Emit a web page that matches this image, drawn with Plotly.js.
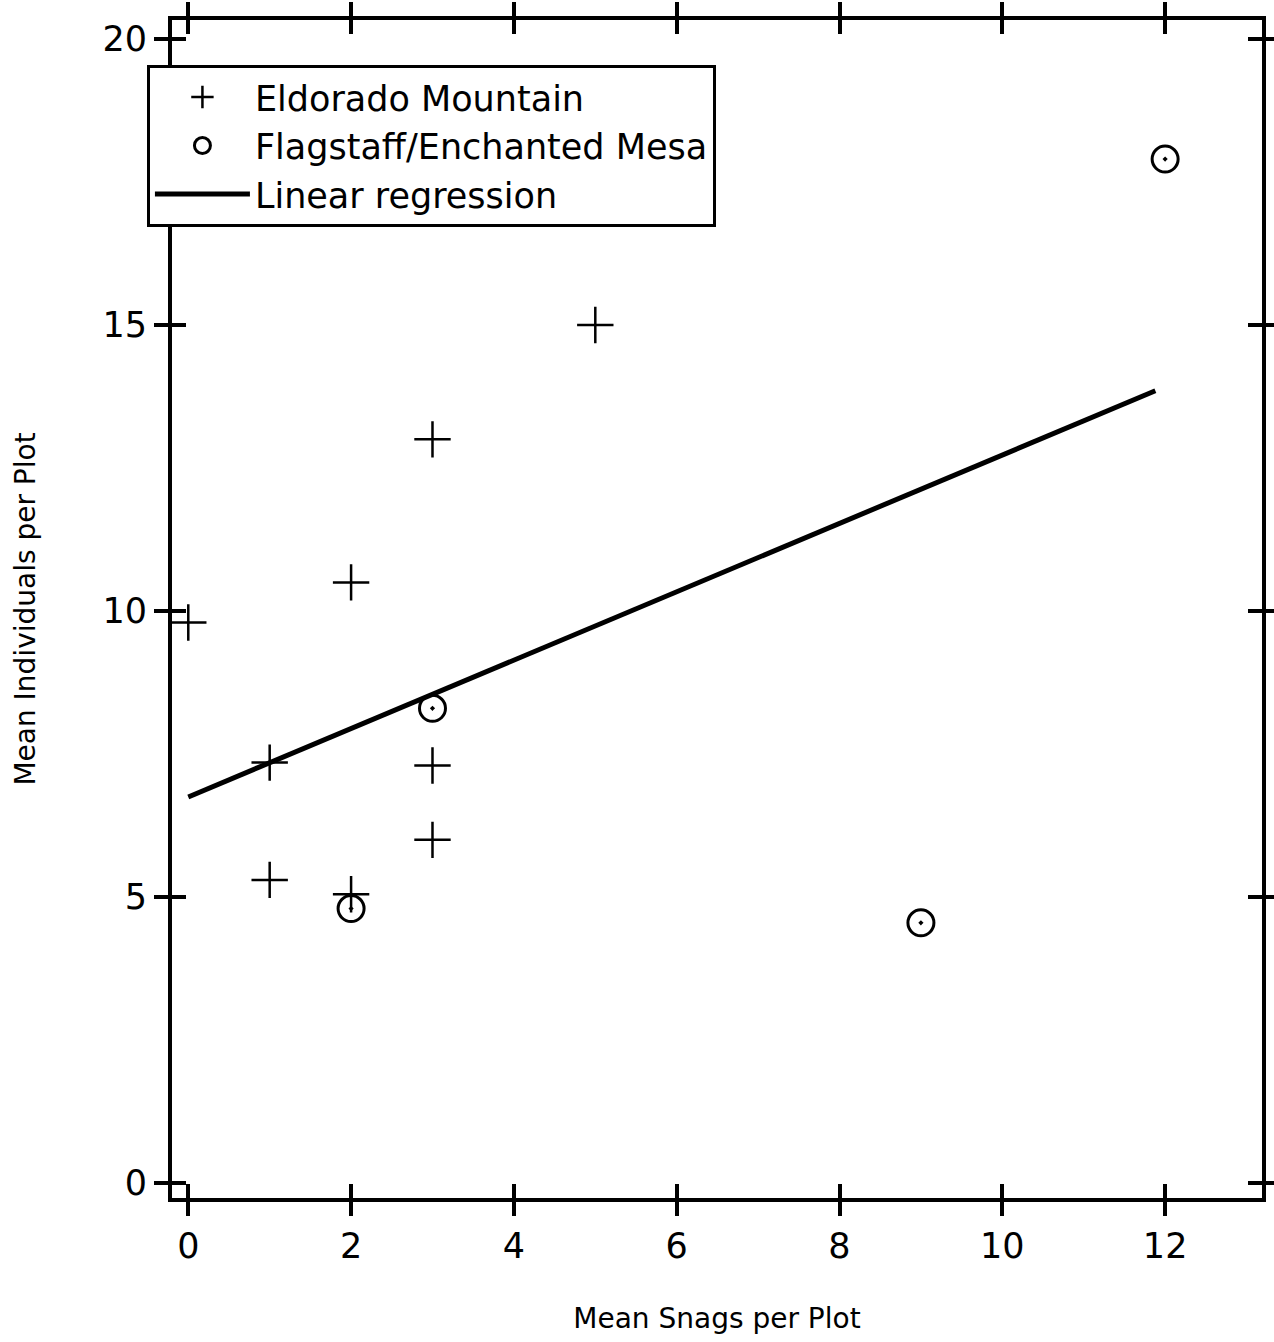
<!DOCTYPE html>
<html>
<head>
<meta charset="utf-8">
<script src="https://cdn.plot.ly/plotly-3.0.1.min.js"></script>
<style>
html,body{margin:0;padding:0;background:#fff;}
#chart{width:1274px;height:1342px;}
</style>
</head>
<body>
<div id="chart"></div>
<script>
// Eldorado Mountain
const eldoradoX = [0, 1, 1, 2, 2, 3, 3, 3, 5];
const eldoradoY = [9.8, 7.35, 5.3, 10.5, 5.05, 13.0, 7.3, 6.0, 15.0];
// Flagstaff/Enchanted Mesa
const flagstaffX = [2, 3, 9, 12];
const flagstaffY = [4.8, 8.3, 4.55, 17.9];
// Linear regression (endpoints)
const regX = [0, 11.88];
const regY = [6.75, 13.85];

const xTicks = [0, 2, 4, 6, 8, 10, 12];
const yTicks = [0, 5, 10, 15, 20];

const FONT = "DejaVu Sans, Liberation Sans, Arial, sans-serif";
const xRange = [-0.2, 13.19];
const yRange = [-0.26, 20.33];

const traces = [
  {
    x: eldoradoX, y: eldoradoY, type: 'scatter', mode: 'markers',
    name: 'Eldorado Mountain',
    marker: {symbol: 'cross-thin-open', size: 26, color: '#000', line: {color: '#000', width: 2.5}}
  },
  {
    x: flagstaffX, y: flagstaffY, type: 'scatter', mode: 'markers',
    name: 'Flagstaff/Enchanted Mesa', showlegend: false,
    marker: {symbol: 'circle-open-dot', size: 26, color: '#000', line: {color: '#000', width: 3}}
  },
  {
    x: [null], y: [null], type: 'scatter', mode: 'markers',
    name: 'Flagstaff/Enchanted Mesa',
    marker: {symbol: 'circle-open', size: 20, color: '#000', line: {color: '#000', width: 3}}
  },
  {
    x: regX, y: regY, type: 'scatter', mode: 'lines',
    name: 'Linear regression',
    line: {color: '#000', width: 5}
  },
  {
    // empty helper trace so the overlaid inner-tick axes get drawn
    x: [null], y: [null], type: 'scatter', mode: 'markers',
    xaxis: 'x2', yaxis: 'y2', showlegend: false, hoverinfo: 'skip'
  }
];

const axisCommon = {
  showgrid: false, zeroline: false, showline: true,
  linecolor: '#000', linewidth: 4,
  tickcolor: '#000', tickwidth: 4, ticklen: 14,
  tickfont: {family: FONT, size: 35, color: '#000'}
};

const layout = {
  width: 1274, height: 1342,
  margin: {l: 172, r: 12, t: 20, b: 144},
  paper_bgcolor: '#fff', plot_bgcolor: '#fff',
  showlegend: true,
  legend: {
    x: -0.023, y: 0.962, xanchor: 'left', yanchor: 'top',
    bgcolor: '#fff', bordercolor: '#000', borderwidth: 3,
    font: {family: FONT, size: 35, color: '#000'},
    itemwidth: 95, tracegroupgap: 0
  },
  xaxis: Object.assign({}, axisCommon, {
    range: xRange, tickvals: xTicks, ticktext: xTicks.map(String),
    ticks: 'outside', mirror: 'ticks',
    title: {text: 'Mean Snags per Plot', font: {family: FONT, size: 28, color: '#000'}, standoff: 44}
  }),
  yaxis: Object.assign({}, axisCommon, {
    range: yRange, tickvals: yTicks, ticktext: yTicks.map(String),
    ticks: 'outside', mirror: 'ticks',
    title: {text: 'Mean Individuals per Plot', font: {family: FONT, size: 28, color: '#000'}, standoff: 60}
  }),
  xaxis2: {
    overlaying: 'x', anchor: 'y2', side: 'bottom', range: xRange, tickvals: xTicks,
    showticklabels: false, showgrid: false, zeroline: false, showline: false,
    ticks: 'inside', mirror: 'ticks', ticklen: 14, tickwidth: 4, tickcolor: '#000'
  },
  yaxis2: {
    overlaying: 'y', anchor: 'x2', side: 'left', range: yRange, tickvals: yTicks,
    showticklabels: false, showgrid: false, zeroline: false, showline: false,
    ticks: 'inside', mirror: 'ticks', ticklen: 14, tickwidth: 4, tickcolor: '#000'
  }
};

Plotly.newPlot('chart', traces, layout, {displayModeBar: false, staticPlot: true});
</script>
</body>
</html>
